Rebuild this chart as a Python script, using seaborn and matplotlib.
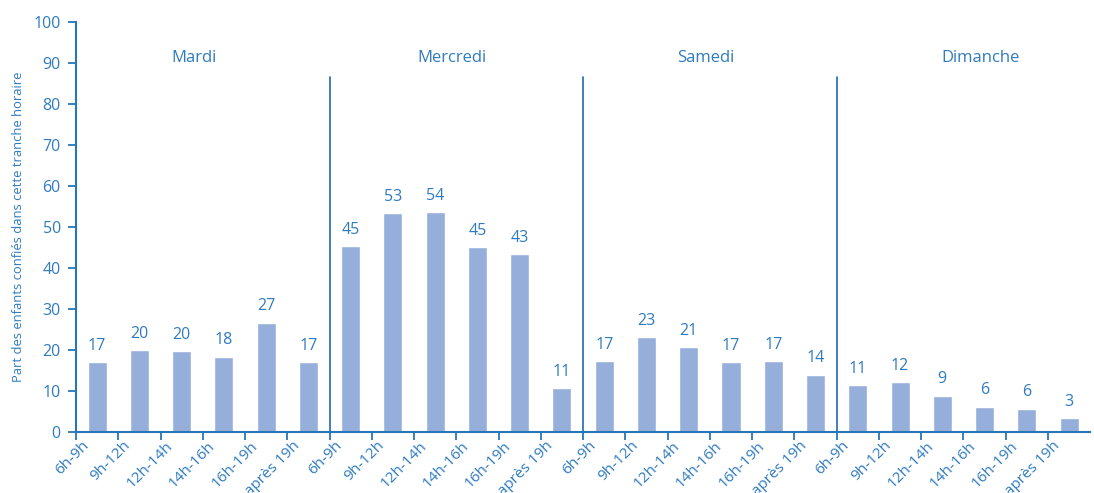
import numpy as np
import pandas as pd
import matplotlib
matplotlib.use("Agg")
import matplotlib.pyplot as plt
import matplotlib.transforms as mtrans
import seaborn as sns

days = ["Mardi", "Mercredi", "Samedi", "Dimanche"]
slots = ["6h-9h", "9h-12h", "12h-14h", "14h-16h", "16h-19h", "après 19h"]
mardi = [17.1, 19.9, 19.7, 18.4, 26.7, 17.0]
mercredi = [45.4, 53.4, 53.7, 45.1, 43.4, 10.8]
samedi = [17.2, 23.1, 20.7, 17.0, 17.2, 14.0]
dimanche = [11.4, 12.2, 8.9, 6.2, 5.7, 3.3]
labels = [17, 20, 20, 18, 27, 17,
          45, 53, 54, 45, 43, 11,
          17, 23, 21, 17, 17, 14,
          11, 12, 9, 6, 6, 3]

values = mardi + mercredi + samedi + dimanche
keys = [f"{d}|{s}" for d in days for s in slots]
df = pd.DataFrame({"key": keys, "val": values})

sns.set_style("white")
plt.rcParams['font.family'] = ['Open Sans', 'DejaVu Sans']

TXT = "#2F7BBF"
AX = "#2577BA"
BAR = "#95AFDA"

fig = plt.figure(figsize=(10.94, 4.93), dpi=100)
ax = fig.add_axes([0.0695, 0.1237, 0.927, 0.8317])
sns.barplot(data=df, x="key", y="val", order=keys, color=BAR, width=0.45,
            saturation=1, ax=ax)

ax.set_xlim(-0.5, 23.5)
ax.set_ylim(0, 100)
ax.set_yticks(range(0, 101, 10))
ax.set_xticks(np.arange(24) - 0.5)
ax.set_xticklabels([s for d in days for s in slots], rotation=45,
                   ha="right", va="top", rotation_mode="anchor",
                   fontsize=11, color=TXT)
ax.tick_params(axis="x", bottom=True, direction="out", length=6, width=1.3,
               color=AX, pad=0)
ax.tick_params(axis="y", left=True, direction="out", length=6, width=1.3,
               color=AX, labelsize=11.5, labelcolor=TXT, pad=5)
shift = mtrans.ScaledTranslation(0.05, 0.02, fig.dpi_scale_trans)
for lab in ax.get_xticklabels():
    lab.set_transform(lab.get_transform() + shift)

for sp in ["top", "right"]:
    ax.spines[sp].set_visible(False)
for sp in ["left", "bottom"]:
    ax.spines[sp].set_color(AX)
    ax.spines[sp].set_linewidth(1.5)

ax.set_xlabel("")
ax.set_ylabel("Part des enfants confiés dans cette tranche horaire", fontsize=9.4,
              color=TXT, labelpad=6)

for i, (v, l) in enumerate(zip(values, labels)):
    ax.text(i, v + 2.0, str(l), ha="center", va="bottom", fontsize=11.5, color=TXT)

for b in [5.5, 11.5, 17.5]:
    ax.plot([b, b], [0, 86.6], color="#1F6AAE", lw=1.2)

day_label_x = [2.3, 8.4, 14.4, 20.9]
for xpos, d in zip(day_label_x, days):
    ax.text(xpos, 91.2, d, ha="center", va="center", fontsize=12, color=TXT)

fig.savefig("out.png", dpi=100)
